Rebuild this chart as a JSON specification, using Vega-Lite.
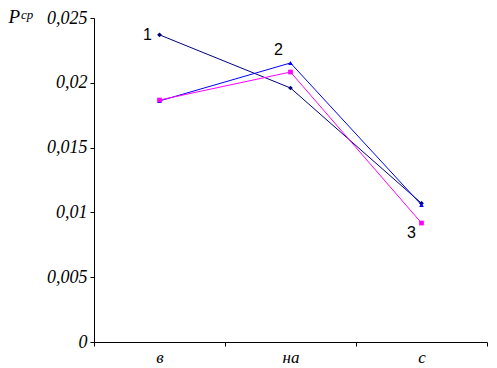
{
  "$schema": "https://vega.github.io/schema/vega-lite/v6.json",
  "width": 393,
  "height": 324,
  "autosize": "none",
  "padding": {"left": 94, "top": 18, "right": 10, "bottom": 26},
  "background": "white",
  "config": {"view": {"stroke": null}},
  "title": {"text": "ср", "anchor": "start", "orient": "top", "frame": "group", "dx": -73, "dy": 25, "offset": 0, "baseline": "alphabetic", "font": "Liberation Serif", "fontStyle": "italic", "fontWeight": "normal", "fontSize": 13, "color": "black"},
  "data": {"values": [
    {"cat": "в", "s": "1", "v": 0.0237, "lab": "1"},
    {"cat": "на", "s": "1", "v": 0.0196},
    {"cat": "с", "s": "1", "v": 0.0107},
    {"cat": "в", "s": "2", "v": 0.0186},
    {"cat": "на", "s": "2", "v": 0.02153, "lab": "2"},
    {"cat": "с", "s": "2", "v": 0.01057},
    {"cat": "в", "s": "3", "v": 0.01867},
    {"cat": "на", "s": "3", "v": 0.02083},
    {"cat": "с", "s": "3", "v": 0.00918, "lab": "3"}
  ]},
  "encoding": {
    "x": {"field": "cat", "type": "nominal", "sort": ["в", "на", "с"],
      "scale": {"type": "band", "paddingInner": 0, "paddingOuter": 0},
      "axis": {"title": null, "labelAngle": 0, "tickBand": "extent", "domainColor": "black", "tickColor": "black", "tickSize": 4, "labelFont": "Liberation Serif", "labelFontStyle": "italic", "labelFontSize": 17, "labelColor": "black", "labelPadding": 3, "grid": false}},
    "y": {"field": "v", "type": "quantitative",
      "scale": {"domain": [0, 0.025], "nice": false, "zero": true},
      "axis": {"values": [0, 0.005, 0.01, 0.015, 0.02, 0.025], "labelExpr": "replace(format(datum.value, '~g'), '.', ',')", "grid": false, "domainColor": "black", "tickColor": "black", "tickSize": 4, "labelFont": "Liberation Serif", "labelFontStyle": "italic", "labelFontSize": 18, "labelColor": "black", "labelPadding": 3,
        "title": "P", "titleAngle": 0, "titleX": -86, "titleY": 4, "titleAlign": "left", "titleBaseline": "alphabetic", "titleFont": "Liberation Serif", "titleFontStyle": "italic", "titleFontWeight": "normal", "titleFontSize": 19, "titleColor": "black"}},
    "color": {"field": "s", "type": "nominal", "scale": {"domain": ["1", "2", "3"], "range": ["#000080", "#0000FF", "#FF00FF"]}, "legend": null}
  },
  "layer": [
    {"mark": {"type": "line", "strokeWidth": 1}, "encoding": {"detail": {"field": "s"}}},
    {"mark": {"type": "point", "filled": true, "opacity": 1, "size": 22},
      "encoding": {"shape": {"field": "s", "type": "nominal", "scale": {"domain": ["1", "2", "3"], "range": ["diamond", "triangle-up", "square"]}, "legend": null}}},
    {"transform": [{"filter": "datum.lab == '1'"}], "mark": {"type": "text", "dx": -12, "dy": 0, "font": "Liberation Sans", "fontSize": 16, "baseline": "middle"}, "encoding": {"text": {"field": "lab"}, "color": {"value": "black"}}},
    {"transform": [{"filter": "datum.lab == '2'"}], "mark": {"type": "text", "dx": -12, "dy": -13, "font": "Liberation Sans", "fontSize": 16, "baseline": "middle"}, "encoding": {"text": {"field": "lab"}, "color": {"value": "black"}}},
    {"transform": [{"filter": "datum.lab == '3'"}], "mark": {"type": "text", "dx": -10, "dy": 10, "font": "Liberation Sans", "fontSize": 16, "baseline": "middle"}, "encoding": {"text": {"field": "lab"}, "color": {"value": "black"}}}
  ]
}
